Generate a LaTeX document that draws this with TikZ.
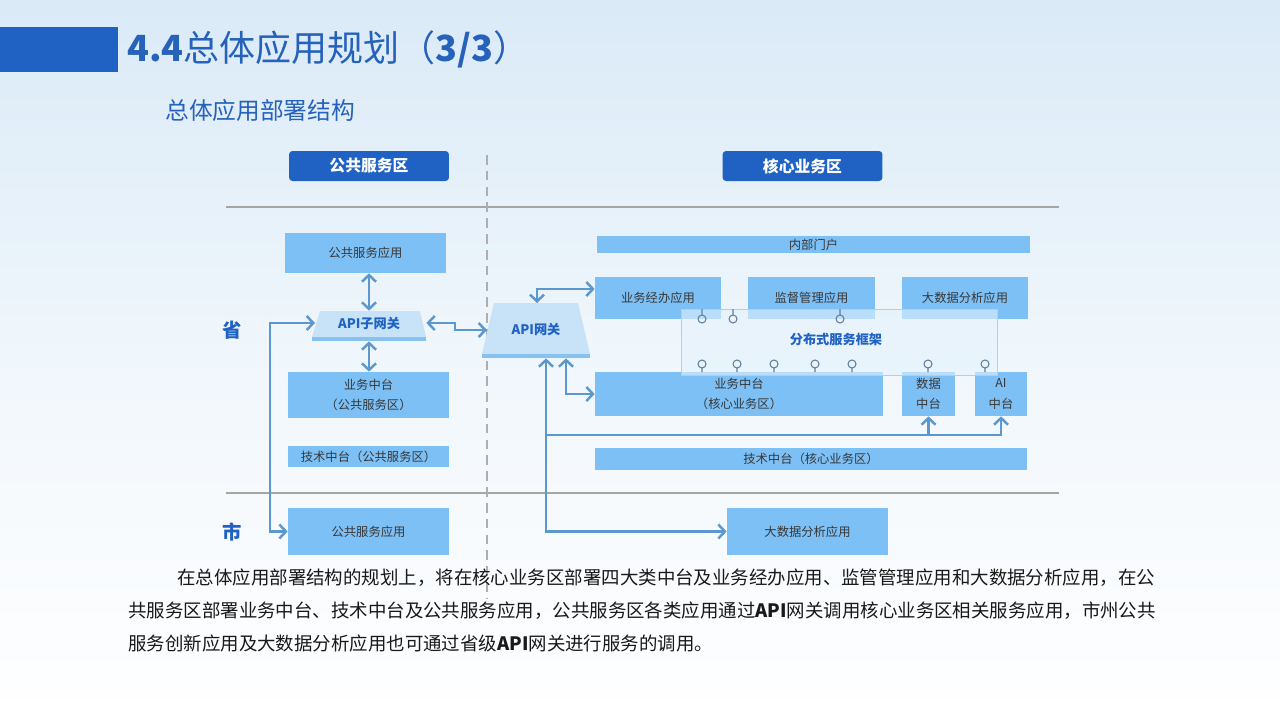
\documentclass[tikz,border=0pt]{standalone}
\usepackage{fontspec}
\setmainfont{Noto Sans CJK SC}
\usetikzlibrary{arrows.meta}
\definecolor{slideBlue}{RGB}{31,98,196}
\definecolor{titleBlue}{RGB}{38,98,186}
\definecolor{boxBlue}{RGB}{125,192,246}
\definecolor{gateBlue}{RGB}{200,227,248}
\definecolor{bandBlue}{RGB}{135,193,240}
\definecolor{arrowBlue}{RGB}{92,152,206}
\definecolor{ruleGray}{RGB}{165,165,165}
\definecolor{bgTop}{RGB}{218,234,247}
\definecolor{textGray}{RGB}{55,55,55}
\definecolor{frameBlue}{RGB}{228,242,252}
\definecolor{pinGray}{RGB}{100,128,155}

\begin{document}
\begin{tikzpicture}[x=0.02cm, y=-0.02cm, >={Straight Barb[length=3.8pt,width=8pt]}]
    \tikzstyle{block} = [fill=boxBlue, text=textGray, font=\fontsize{7}{11.5}\selectfont, align=center, inner sep=0pt]
    \tikzstyle{zone} = [fill=slideBlue, rounded corners=2pt, text=white, font=\fontsize{9}{11}\selectfont\bfseries, minimum width=3.2cm, minimum height=0.6cm]
    \tikzstyle{gate} = [text=slideBlue, font=\fontsize{7.5}{9}\selectfont\bfseries, inner sep=0pt]
    \tikzstyle{level} = [text=slideBlue, font=\fontsize{11}{13}\selectfont\bfseries]
    \tikzstyle{para} = [anchor=west, inner sep=0pt, text=black!90, font=\fontsize{10.5}{12}\selectfont]
    \tikzstyle{link} = [draw=arrowBlue, line width=1.4pt]
    \tikzstyle{pin} = [draw=pinGray, line width=0.6pt]

    % background and heading
    \useasboundingbox (0,0) rectangle (1280,720);
    \shade[top color=bgTop, bottom color=white, middle color=bgTop!40] (0,0) rectangle (1280,720);
    \fill[slideBlue] (0,27) rectangle (118,72);
    \node[anchor=west, inner sep=0pt, text=titleBlue, font=\fontsize{20.5}{24}\selectfont] (title) at (127,49) {\textbf{4.4}总体应用规划（\textbf{3/3}）};
    \node[anchor=west, inner sep=0pt, text=titleBlue, font=\fontsize{13.5}{16}\selectfont] (subtitle) at (165,110) {总体应用部署结构};

    % zones
    \node[zone] (pubzone) at (369,166) {公共服务区};
    \node[zone] (corezone) at (802.5,166) {核心业务区};
    \draw[ruleGray, line width=1.6pt] (226,207) -- (1059,207);
    \draw[ruleGray, line width=1.6pt] (226,493) -- (1059,493);
    \draw[ruleGray!90, line width=1.4pt, dash pattern=on 5.5pt off 3.5pt] (487,155) -- (487,598);
    \node[level] (prov) at (232,330) {省};
    \node[level] (city) at (232,532) {市};

    % public service side
    \node[block, minimum width=3.22cm, minimum height=0.8cm] (pubapp) at (365.5,253) {公共服务应用};
    \fill[gateBlue] (320,311) -- (420,311) -- (426,337) -- (312,337) -- cycle;
    \fill[bandBlue] (312,337) rectangle (426,341);
    \node[inner sep=0pt, minimum width=2.28cm, minimum height=0.6cm] (subgw) at (369,326) {};
    \node[gate] (subgwtext) at (369,323) {API子网关};
    \node[block, minimum width=3.22cm, minimum height=0.92cm] (pubmid) at (368.5,395) {业务中台\\（公共服务区）};
    \node[block, minimum width=3.22cm, minimum height=0.42cm] (pubtech) at (368.5,456.5) {技术中台（公共服务区）};
    \node[block, minimum width=3.22cm, minimum height=0.94cm] (cityapp) at (368.5,531.5) {公共服务应用};

    % gateway
    \fill[gateBlue] (494,303) -- (578,303) -- (590,354) -- (482,354) -- cycle;
    \fill[bandBlue] (482,354) rectangle (590,358);
    \node[gate, minimum width=2.16cm, minimum height=1.1cm] (gw) at (536,330.5) {};
    \node[gate] (gwtext) at (536,329) {API网关};
    \coordinate (subin) at (315,323);
    \coordinate (gwin) at (487,330);
    \coordinate (gwtop) at (537,303);

    % core business side
    \node[block, minimum width=8.66cm, minimum height=0.34cm] (portal) at (813.5,244.5) {内部门户};
    \node[block, minimum width=2.52cm, minimum height=0.84cm] (handle) at (658,298) {业务经办应用};
    \node[block, minimum width=2.54cm, minimum height=0.84cm] (supervise) at (811.5,298) {监督管理应用};
    \node[block, minimum width=2.52cm, minimum height=0.84cm] (analysis) at (965,298) {大数据分析应用};
    \node[block, minimum width=5.76cm, minimum height=0.88cm] (coremid) at (739,394) {业务中台\\（核心业务区）};
    \node[block, minimum width=1.06cm, minimum height=0.88cm] (datamid) at (928.5,394) {数据\\中台};
    \node[block, minimum width=1.04cm, minimum height=0.88cm] (aimid) at (1001,394) {AI\\中台};
    \node[fill=frameBlue, fill opacity=0.6, text opacity=1, draw=boxBlue!70, line width=0.4pt, minimum width=6.32cm, minimum height=1.32cm, inner sep=0pt] (frame) at (839,342) {};
    \node[gate] (frametext) at (836,339) {分布式服务框架};
    \node[block, minimum width=8.64cm, minimum height=0.44cm] (coretech) at (811,459) {技术中台（核心业务区）};
    \node[block, minimum width=3.22cm, minimum height=0.94cm] (bigdata) at (807.5,531.5) {大数据分析应用};

    % service pins
    \foreach \x in {702,733,840}
        \draw[pin] (\x,309) -- (\x,315) (\x,319) circle [radius=4];
    \foreach \x in {702,737,774,815,852,928,985}
        \draw[pin] (\x,372) -- (\x,368) (\x,364) circle [radius=4];

    % connectors
    \draw[link, <->] (pubapp.south -| subgw) -- (subgw.north);
    \draw[link, <->] (subgw.south) -- (pubmid.north -| subgw);
    \draw[link, <->] (subgw.east |- subin) -- (455,323) -- (455,330) -- (gwin);
    \draw[link, <->] (subin) -- ++(-45,0) |- (cityapp.west);
    \draw[link, <->] (gwtop) |- ([yshift=0.18cm]handle.west);
    \draw[link, <->] ([xshift=0.6cm]gw.south) |- (coremid.west);
    \draw[link, <->] ([xshift=0.2cm]gw.south) |- (bigdata.west);
    \coordinate (fork) at (546,435);
    \draw[link, ->] (fork) -| (aimid.south);
    \draw[link, ->] (datamid.south |- fork) -- (datamid.south);

    % description
    \node[para] (line1) at (177,578) {在总体应用部署结构的规划上，将在核心业务区部署四大类中台及业务经办应用、监管管理应用和大数据分析应用，在公};
    \node[para] (line2) at (128,611) {共服务区部署业务中台、技术中台及公共服务应用，公共服务区各类应用通过\textbf{API}网关调用核心业务区相关服务应用，市州公共};
    \node[para] (line3) at (128,643) {服务创新应用及大数据分析应用也可通过省级\textbf{API}网关进行服务的调用。};
\end{tikzpicture}
\end{document}
